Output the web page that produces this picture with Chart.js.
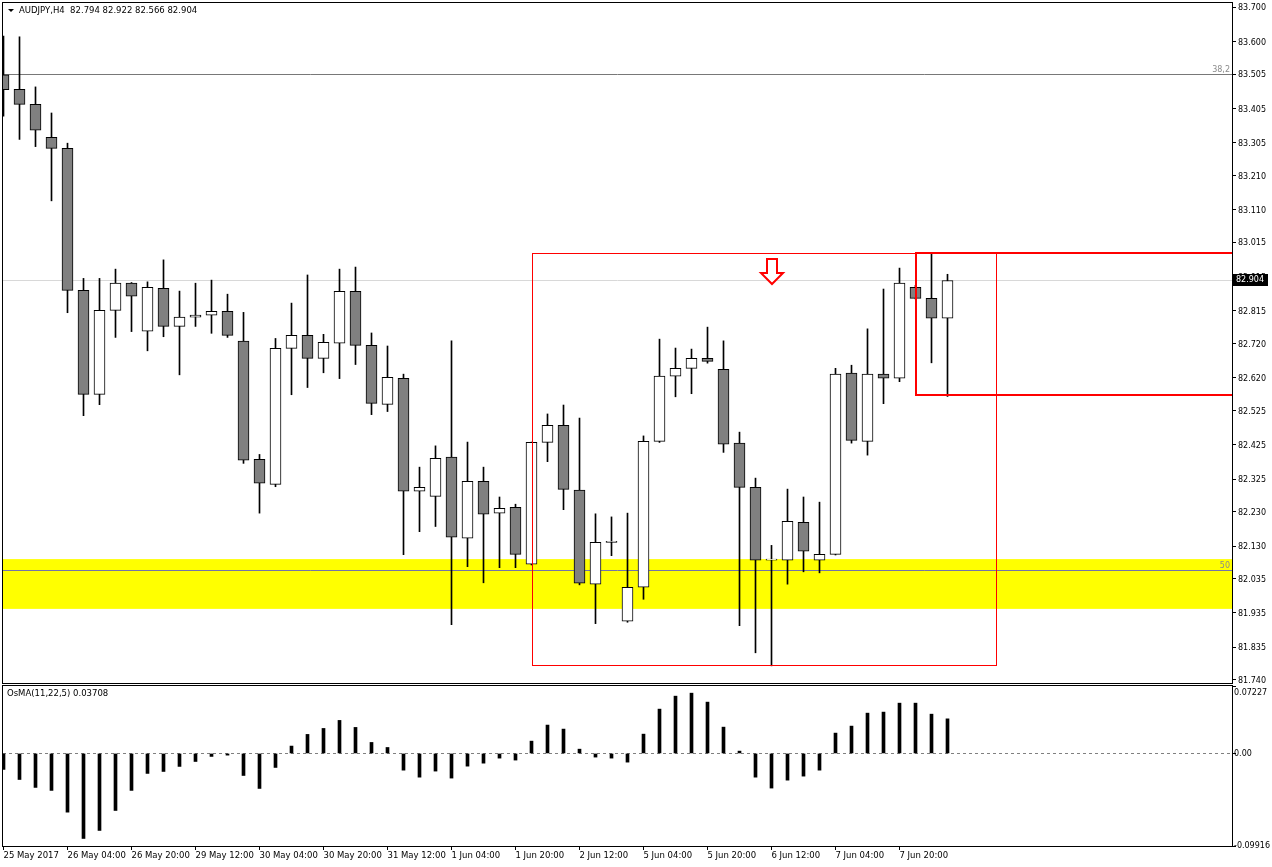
<!DOCTYPE html>
<html>
<head>
<meta charset="utf-8">
<title>AUDJPY H4</title>
<script src="https://cdn.jsdelivr.net/npm/chart.js@4.4.1/dist/chart.umd.min.js"></script>
<style>
  html, body { margin: 0; padding: 0; background: #fff; }
  #wrap { position: relative; width: 1272px; height: 867px; }
  canvas { position: absolute; left: 0; }
  #price { top: 0; }
  #osma { top: 685px; }
</style>
</head>
<body>
<div id="wrap">
  <canvas id="price" width="1272" height="685"></canvas>
  <canvas id="osma" width="1272" height="182"></canvas>
</div>
<script>
// quote header
const symbolTitle = 'AUDJPY,H4';
const lastQuote = ['82.794', '82.922', '82.566', '82.904'];
const osmaTitle = 'OsMA(11,22,5)';
const osmaLast = '0.03708';

// H4 candles, left to right
const openPrices = [83.503, 83.461, 83.417, 83.321, 83.289, 82.875, 82.572, 82.817, 82.896, 82.756,
  82.881, 82.770, 82.797, 82.803, 82.814, 82.727, 82.383, 82.310, 82.706, 82.744,
  82.677, 82.721, 82.872, 82.715, 82.543, 82.619, 82.290, 82.275, 82.389, 82.153,
  82.319, 82.226, 82.243, 82.077, 82.432, 82.482, 82.293, 82.019, 82.141, 81.911,
  82.010, 82.435, 82.625, 82.648, 82.677, 82.645, 82.430, 82.301, 82.089, 82.089,
  82.199, 82.089, 82.106, 82.634, 82.435, 82.631, 82.619, 82.884, 82.852, 82.794];
const highPrices = [83.616, 83.614, 83.468, 83.392, 83.304, 82.910, 82.910, 82.937, 82.898, 82.900,
  82.964, 82.873, 82.896, 82.905, 82.864, 82.811, 82.397, 82.735, 82.838, 82.920,
  82.747, 82.937, 82.943, 82.751, 82.713, 82.631, 82.360, 82.422, 82.728, 82.433,
  82.360, 82.273, 82.252, 82.433, 82.515, 82.541, 82.503, 82.224, 82.215, 82.226,
  82.451, 82.733, 82.707, 82.704, 82.768, 82.728, 82.462, 82.328, 82.132, 82.296,
  82.273, 82.258, 82.648, 82.657, 82.763, 82.879, 82.940, 82.890, 82.981, 82.922];
const lowPrices = [83.383, 83.315, 83.294, 83.136, 82.810, 82.510, 82.542, 82.738, 82.755, 82.699,
  82.740, 82.629, 82.770, 82.750, 82.738, 82.371, 82.226, 82.303, 82.571, 82.592,
  82.635, 82.618, 82.659, 82.513, 82.522, 82.105, 82.172, 82.187, 81.901, 82.070,
  82.023, 82.067, 82.067, 82.075, 82.376, 82.236, 82.017, 81.904, 82.102, 81.908,
  81.975, 82.432, 82.565, 82.574, 82.663, 82.403, 81.898, 81.819, 81.781, 82.019,
  82.055, 82.052, 82.104, 82.430, 82.395, 82.545, 82.609, 82.850, 82.664, 82.566];
const closePrices = [83.460, 83.417, 83.342, 83.289, 82.875, 82.572, 82.817, 82.896, 82.858, 82.884,
  82.770, 82.797, 82.803, 82.814, 82.744, 82.380, 82.313, 82.706, 82.744, 82.677,
  82.724, 82.872, 82.715, 82.546, 82.622, 82.290, 82.301, 82.386, 82.156, 82.319,
  82.223, 82.240, 82.106, 82.432, 82.482, 82.295, 82.022, 82.141, 82.144, 82.010,
  82.435, 82.625, 82.648, 82.677, 82.668, 82.427, 82.301, 82.089, 82.092, 82.202,
  82.115, 82.106, 82.631, 82.438, 82.631, 82.619, 82.896, 82.852, 82.794, 82.904];

// OsMA histogram, one value per candle
const osmaValues = [-0.0171, -0.0279, -0.0364, -0.0396, -0.0629, -0.0911, -0.0825, -0.0611, -0.0396, -0.0214,
  -0.0193, -0.0139, -0.0086, -0.0032, -0.0018, -0.0236, -0.0375, -0.0150, 0.0079, 0.0204,
  0.0268, 0.0354, 0.0279, 0.0118, 0.0064, -0.0179, -0.0254, -0.0189, -0.0264, -0.0136,
  -0.0104, -0.0050, -0.0071, 0.0132, 0.0304, 0.0261, 0.0046, -0.0039, -0.0050, -0.0093,
  0.0207, 0.0475, 0.0614, 0.0646, 0.0550, 0.0282, 0.0025, -0.0254, -0.0371, -0.0286,
  -0.0243, -0.0179, 0.0218, 0.0293, 0.0432, 0.0443, 0.0539, 0.0539, 0.0421, 0.03708];

// axes
const timeLabels = ['25 May 2017', '26 May 04:00', '26 May 20:00', '29 May 12:00', '30 May 04:00',
  '30 May 20:00', '31 May 12:00', '1 Jun 04:00', '1 Jun 20:00', '2 Jun 12:00',
  '5 Jun 04:00', '5 Jun 20:00', '6 Jun 12:00', '7 Jun 04:00', '7 Jun 20:00'];
const timeLabelBars = [0, 4, 8, 12, 16, 20, 24, 28, 32, 36, 40, 44, 48, 52, 56];
const priceTicks = [83.700, 83.600, 83.505, 83.405, 83.305, 83.210, 83.110, 83.015, 82.915, 82.815,
  82.720, 82.620, 82.525, 82.425, 82.325, 82.230, 82.130, 82.035, 81.935, 81.835, 81.740];
const osmaTicks = [0.07227, 0, -0.09916];
const priceRange = [81.731, 83.7125];
const osmaRange = [-0.09916, 0.07227];
const barRange = [-0.03125, 76.78125];

// drawn objects on the price panel
const supportZone = [81.947, 82.092];
const fibPrices = [83.505, 82.060];
const fibNames = ['38,2', '50'];
const bidPrice = 82.904;
const rangeBoxBars = [33, 62];
const rangeBoxPrices = [81.783, 82.984];
const targetBoxBars = [57, 80];
const targetBoxPrices = [82.570, 82.984];
const arrowBar = 48;
const arrowPrice = 82.967;

const FONT = '"DejaVu Sans", Tahoma, sans-serif';

function crisp(v) { return Math.round(v) + 0.5; }

// keep the axis from reserving room for half-labels at the ends
function fixAxis(size) {
    return (s) => {
        if (s.isHorizontal()) s.height = size; else s.width = size;
        s.paddingTop = 0;
        s.paddingBottom = 0;
        s.paddingLeft = 0;
        s.paddingRight = 0;
    };
}

const pricePanel = {
    id: 'pricePanel',
    beforeDatasetsDraw(chart) {
        const { ctx, chartArea: a, scales: { x, y } } = chart;
        ctx.save();
        ctx.beginPath();
        ctx.rect(a.left, a.top, a.width, a.height);
        ctx.clip();

        // yellow support zone
        const zTop = y.getPixelForValue(supportZone[1]);
        const zBot = y.getPixelForValue(supportZone[0]);
        ctx.fillStyle = '#ffff00';
        ctx.fillRect(a.left, zTop, a.width, zBot - zTop);

        // bid line
        ctx.lineWidth = 1;
        ctx.strokeStyle = '#d8d8d8';
        let py = crisp(y.getPixelForValue(bidPrice));
        ctx.beginPath(); ctx.moveTo(a.left, py); ctx.lineTo(a.right, py); ctx.stroke();

        // fibo levels
        const fibColors = ['#787878', '#7474a8'];
        ctx.font = '8px ' + FONT;
        ctx.textAlign = 'right';
        ctx.textBaseline = 'bottom';
        fibPrices.forEach((p, i) => {
            py = crisp(y.getPixelForValue(p));
            ctx.strokeStyle = fibColors[i];
            ctx.beginPath(); ctx.moveTo(a.left, py); ctx.lineTo(a.right, py); ctx.stroke();
            ctx.fillStyle = '#8a8a8a';
            ctx.fillText(fibNames[i], a.right - 2, py - 1);
        });
        ctx.restore();
    },
    afterDatasetsDraw(chart) {
        const { ctx, chartArea: a, scales: { x, y } } = chart;
        ctx.save();
        ctx.beginPath();
        ctx.rect(a.left, a.top, a.width, a.height);
        ctx.clip();
        ctx.strokeStyle = '#ff0000';

        // thin range box
        let l = crisp(x.getPixelForValue(rangeBoxBars[0]));
        let r = crisp(x.getPixelForValue(rangeBoxBars[1]));
        let t = crisp(y.getPixelForValue(rangeBoxPrices[1]));
        let b = crisp(y.getPixelForValue(rangeBoxPrices[0]));
        ctx.lineWidth = 1;
        ctx.strokeRect(l, t, r - l, b - t);

        // thick target box
        l = Math.round(x.getPixelForValue(targetBoxBars[0]));
        r = Math.round(x.getPixelForValue(targetBoxBars[1]));
        t = Math.round(y.getPixelForValue(targetBoxPrices[1]));
        b = Math.round(y.getPixelForValue(targetBoxPrices[0]));
        ctx.lineWidth = 2;
        ctx.strokeRect(l, t, r - l, b - t);

        // hollow down arrow
        const ax = Math.round(x.getPixelForValue(arrowBar));
        const ay = Math.round(y.getPixelForValue(arrowPrice));
        ctx.beginPath();
        ctx.moveTo(ax - 5, ay);
        ctx.lineTo(ax + 5, ay);
        ctx.lineTo(ax + 5, ay + 14);
        ctx.lineTo(ax + 11, ay + 14);
        ctx.lineTo(ax, ay + 25);
        ctx.lineTo(ax - 11, ay + 14);
        ctx.lineTo(ax - 5, ay + 14);
        ctx.closePath();
        ctx.fillStyle = '#ffffff';
        ctx.fill();
        ctx.lineWidth = 2;
        ctx.stroke();
        ctx.restore();
    },
    afterDraw(chart) {
        const { ctx, chartArea: a, scales: { y } } = chart;
        ctx.save();
        // frame
        ctx.strokeStyle = '#000';
        ctx.lineWidth = 1;
        ctx.strokeRect(a.left - 0.5, a.top - 0.5, a.width + 1, a.height + 1);

        // header
        ctx.fillStyle = '#000';
        ctx.beginPath();
        ctx.moveTo(8, 9); ctx.lineTo(14, 9); ctx.lineTo(11, 12); ctx.closePath();
        ctx.fill();
        ctx.font = '8.5px ' + FONT;
        ctx.textAlign = 'left';
        ctx.textBaseline = 'middle';
        ctx.fillText(symbolTitle + '  ' + lastQuote.join(' '), 19, 11);

        // current price box
        const py = Math.round(y.getPixelForValue(bidPrice));
        ctx.fillStyle = '#000';
        ctx.fillRect(a.right + 1, py - 6, 35, 12);
        ctx.fillStyle = '#fff';
        ctx.font = '8px ' + FONT;
        ctx.fillText(bidPrice.toFixed(3), a.right + 4, py);
        ctx.restore();
    }
};

const osmaPanel = {
    id: 'osmaPanel',
    beforeDatasetsDraw(chart) {
        const { ctx, chartArea: a, scales: { y } } = chart;
        ctx.save();
        const py = crisp(y.getPixelForValue(0));
        ctx.strokeStyle = '#808080';
        ctx.lineWidth = 1;
        ctx.setLineDash([3, 3]);
        ctx.beginPath(); ctx.moveTo(a.left, py); ctx.lineTo(a.right, py); ctx.stroke();
        ctx.restore();
    },
    afterDraw(chart) {
        const { ctx, chartArea: a, scales: { y } } = chart;
        ctx.save();
        ctx.strokeStyle = '#000';
        ctx.lineWidth = 1;
        ctx.strokeRect(a.left - 0.5, a.top - 0.5, a.width + 1, a.height + 1);

        ctx.fillStyle = '#000';
        ctx.font = '8.5px ' + FONT;
        ctx.textAlign = 'left';
        ctx.textBaseline = 'middle';
        ctx.fillText(osmaTitle + ' ' + osmaLast, 7, 9);

        // axis labels kept inside the panel like the terminal does
        ctx.font = '8px ' + FONT;
        osmaTicks.forEach(v => {
            const py = Math.min(Math.max(y.getPixelForValue(v), a.top + 7), a.bottom);
            ctx.fillText(v === 0 ? '0.00' : String(v), a.right + 2, py);
        });
        ctx.restore();
    }
};

const xIndex = openPrices.map((_, i) => i);

new Chart(document.getElementById('price'), {
    type: 'bar',
    data: {
        datasets: [
            {
                label: 'body',
                data: xIndex.map(i => ({ x: i, y: [openPrices[i], closePrices[i]] })),
                backgroundColor: xIndex.map(i => closePrices[i] >= openPrices[i] ? '#ffffff' : '#808080'),
                borderColor: '#000000',
                borderWidth: 1,
                borderSkipped: false,
                barThickness: 11,
                grouped: false,
                order: 0,
            },
            {
                label: 'wick',
                data: xIndex.map(i => ({ x: i, y: [lowPrices[i], highPrices[i]] })),
                backgroundColor: '#000000',
                borderWidth: 0,
                barThickness: 1,
                grouped: false,
                order: 1,
            },
        ],
    },
    options: {
        responsive: false,
        animation: false,
        layout: { padding: { left: 3, top: 3, right: 0, bottom: 2 } },
        plugins: { legend: { display: false }, tooltip: { enabled: false } },
        scales: {
            x: { type: 'linear', min: barRange[0], max: barRange[1], offset: false, display: false },
            y: {
                position: 'right',
                min: priceRange[0],
                max: priceRange[1],
                afterBuildTicks: (s) => { s.ticks = priceTicks.map(v => ({ value: v })); },
                afterFit: fixAxis(40),
                grid: { drawOnChartArea: false, drawTicks: true, tickLength: 4, color: '#000' },
                border: { display: true, color: '#000' },
                ticks: {
                    autoSkip: false,
                    padding: 2,
                    labelOffset: 1,
                    color: '#000',
                    font: { family: FONT, size: 8 },
                    callback: (v) => v.toFixed(3),
                },
            },
        },
    },
    plugins: [pricePanel],
});

new Chart(document.getElementById('osma'), {
    type: 'bar',
    data: {
        datasets: [{
            label: 'OsMA',
            data: xIndex.map(i => ({ x: i, y: osmaValues[i] })),
            backgroundColor: '#000000',
            borderWidth: 0,
            barThickness: 3,
        }],
    },
    options: {
        responsive: false,
        animation: false,
        layout: { padding: { left: 3, top: 1, right: 0, bottom: 0 } },
        plugins: { legend: { display: false }, tooltip: { enabled: false } },
        scales: {
            x: {
                type: 'linear',
                min: barRange[0],
                max: barRange[1],
                offset: false,
                afterBuildTicks: (s) => { s.ticks = timeLabelBars.map(v => ({ value: v })); },
                afterFit: fixAxis(21),
                grid: { drawOnChartArea: false, drawTicks: true, tickLength: 4, color: '#000', offset: false },
                border: { display: true, color: '#000' },
                ticks: {
                    autoSkip: false,
                    maxRotation: 0,
                    minRotation: 0,
                    align: 'start',
                    padding: 1,
                    color: '#000',
                    font: { family: FONT, size: 8.5 },
                    callback: (v) => timeLabels[timeLabelBars.indexOf(v)],
                },
            },
            y: {
                position: 'right',
                min: osmaRange[0],
                max: osmaRange[1],
                afterBuildTicks: (s) => { s.ticks = osmaTicks.map(v => ({ value: v })); },
                afterFit: fixAxis(40),
                grid: { drawOnChartArea: false, drawTicks: true, tickLength: 4, color: '#000' },
                border: { display: true, color: '#000' },
                ticks: { display: false },
            },
        },
    },
    plugins: [osmaPanel],
});
</script>
</body>
</html>
